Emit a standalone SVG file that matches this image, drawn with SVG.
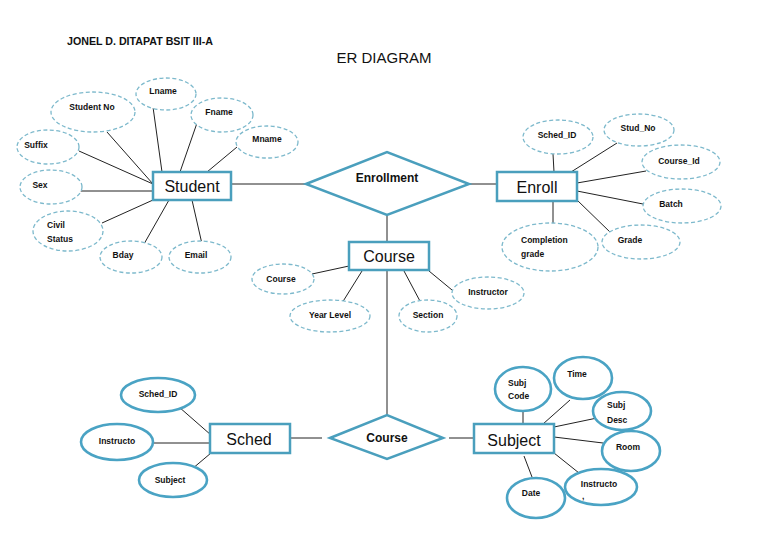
<svg xmlns="http://www.w3.org/2000/svg" width="768" height="543" viewBox="0 0 768 543">
<style>
text{font-family:"Liberation Sans",Arial,sans-serif;fill:#111}
.ent{fill:#fff;stroke:#4a9fbd;stroke-width:2.5}
.rel{fill:#fff;stroke:#4a9fbd;stroke-width:2.5}
.att{fill:#fff;stroke:#7db9cc;stroke-width:1.3;stroke-dasharray:4 2.5}
.satt{fill:#fff;stroke:#4aa3c4;stroke-width:2.6}
.et{font-size:16px;text-anchor:middle}
.rt{font-size:12px;font-weight:bold;text-anchor:middle}
.at{font-size:8.5px;font-weight:bold;text-anchor:middle}
.al{font-size:8.5px;font-weight:bold}
#connectors line{stroke:#222;stroke-width:1}
</style>
<rect width="768" height="543" fill="#fff"/>
<text x="67" y="45" font-size="11" font-weight="bold" textLength="146" lengthAdjust="spacingAndGlyphs">JONEL D. DITAPAT  BSIT III-A</text>
<text x="384" y="63" font-size="15" text-anchor="middle">ER DIAGRAM</text>

<g id="connectors">
<line x1="107" y1="132" x2="153" y2="184"/>
<line x1="79" y1="151" x2="153" y2="184"/>
<line x1="153" y1="107" x2="162" y2="172"/>
<line x1="197" y1="123" x2="180" y2="172"/>
<line x1="237" y1="147" x2="207" y2="172"/>
<line x1="80" y1="191" x2="153" y2="191"/>
<line x1="102" y1="223" x2="153" y2="200"/>
<line x1="144" y1="244" x2="169" y2="200"/>
<line x1="202" y1="244" x2="192" y2="200"/>
<line x1="231" y1="184" x2="306" y2="184"/>
<line x1="469" y1="184" x2="497" y2="184"/>
<line x1="387" y1="215" x2="387" y2="242"/>
<line x1="312" y1="274" x2="349" y2="266"/>
<line x1="342" y1="303" x2="362" y2="271"/>
<line x1="421" y1="303" x2="404" y2="271"/>
<line x1="452" y1="290" x2="429" y2="271"/>
<line x1="387" y1="270" x2="387" y2="415"/>
<line x1="553" y1="154" x2="554" y2="172"/>
<line x1="617" y1="143" x2="571" y2="172"/>
<line x1="646" y1="171" x2="577" y2="183"/>
<line x1="643" y1="204" x2="577" y2="191"/>
<line x1="611" y1="233" x2="577" y2="200"/>
<line x1="553" y1="223" x2="553" y2="201"/>
<line x1="179" y1="407" x2="211" y2="435"/>
<line x1="154" y1="443" x2="211" y2="443"/>
<line x1="192" y1="469" x2="211" y2="453"/>
<line x1="290" y1="438" x2="322" y2="438"/>
<line x1="449" y1="438" x2="474" y2="438"/>
<line x1="523" y1="412" x2="523" y2="424"/>
<line x1="570" y1="400" x2="543" y2="424"/>
<line x1="597" y1="418" x2="554" y2="427"/>
<line x1="603" y1="443" x2="554" y2="437"/>
<line x1="579" y1="473" x2="554" y2="453"/>
<line x1="532" y1="477" x2="524" y2="456"/>
</g>

<g id="student">
<rect class="ent" x="153" y="172" width="78" height="28"/>
<text class="et" x="192" y="192">Student</text>
</g>
<g id="lname"><ellipse class="att" cx="166" cy="94" rx="30" ry="16"/><text class="at" x="163" y="94">Lname</text></g>
<g id="studentno"><ellipse class="att" cx="93" cy="112" rx="42" ry="20"/><text class="at" x="92" y="110">Student No</text></g>
<g id="fname"><ellipse class="att" cx="222" cy="115" rx="31" ry="17"/><text class="at" x="219" y="115">Fname</text></g>
<g id="mname"><ellipse class="att" cx="267" cy="142" rx="31" ry="16"/><text class="at" x="267" y="142">Mname</text></g>
<g id="suffix"><ellipse class="att" cx="48" cy="147" rx="31" ry="17"/><text class="at" x="36" y="148">Suffix</text></g>
<g id="sex"><ellipse class="att" cx="51" cy="187" rx="31" ry="17"/><text class="at" x="40" y="188">Sex</text></g>
<g id="civilstatus"><ellipse class="att" cx="68" cy="231" rx="35" ry="20"/><text class="al" x="47" y="228">Civil</text><text class="al" x="47" y="242">Status</text></g>
<g id="bday"><ellipse class="att" cx="131" cy="257" rx="31" ry="16"/><text class="at" x="123" y="258">Bday</text></g>
<g id="email"><ellipse class="att" cx="200" cy="257" rx="31" ry="16"/><text class="at" x="196" y="258">Email</text></g>

<g id="enrollment">
<polygon class="rel" points="306,184 387,152 469,184 387,215"/>
<text class="rt" x="387" y="182">Enrollment</text>
</g>

<g id="enroll">
<rect class="ent" x="497" y="172" width="80" height="29"/>
<text class="et" x="537" y="193">Enroll</text>
</g>
<g id="schedid"><ellipse class="att" cx="558" cy="137" rx="35" ry="17"/><text class="at" x="557" y="138">Sched_ID</text></g>
<g id="studno"><ellipse class="att" cx="639" cy="130" rx="35" ry="16"/><text class="at" x="638" y="131">Stud_No</text></g>
<g id="courseid"><ellipse class="att" cx="681" cy="162" rx="39" ry="17"/><text class="at" x="679" y="164">Course_Id</text></g>
<g id="batch"><ellipse class="att" cx="682" cy="206" rx="39" ry="17"/><text class="at" x="671" y="207">Batch</text></g>
<g id="grade"><ellipse class="att" cx="641" cy="242" rx="39" ry="17"/><text class="at" x="630" y="243">Grade</text></g>
<g id="completiongrade"><ellipse class="att" cx="550" cy="247" rx="48" ry="24"/><text class="al" x="521" y="243">Completion</text><text class="al" x="521" y="257">grade</text></g>

<g id="course">
<rect class="ent" x="349" y="242" width="80" height="28"/>
<text class="et" x="389" y="262">Course</text>
</g>
<g id="courseattr"><ellipse class="att" cx="283" cy="279" rx="31" ry="15"/><text class="at" x="281" y="282">Course</text></g>
<g id="yearlevel"><ellipse class="att" cx="330" cy="316" rx="40" ry="16"/><text class="at" x="330" y="318">Year Level</text></g>
<g id="section"><ellipse class="att" cx="428" cy="316" rx="29" ry="16"/><text class="at" x="428" y="318">Section</text></g>
<g id="instructor"><ellipse class="att" cx="488" cy="293" rx="36" ry="16"/><text class="at" x="488" y="295">Instructor</text></g>

<g id="coursediamond">
<polygon class="rel" points="330,438 387,415 443,438 387,459"/>
<text class="rt" x="387" y="442">Course</text>
</g>

<g id="sched">
<rect class="ent" x="210" y="424" width="80" height="29"/>
<text class="et" x="249" y="445">Sched</text>
</g>
<g id="sched_schedid"><ellipse class="satt" cx="158" cy="395" rx="37" ry="17"/><text class="at" x="158" y="397">Sched_ID</text></g>
<g id="sched_instructo"><ellipse class="satt" cx="117" cy="442" rx="36" ry="18"/><text class="at" x="117" y="444">Instructo</text></g>
<g id="sched_subject"><ellipse class="satt" cx="173" cy="480" rx="34" ry="17"/><text class="at" x="170" y="483">Subject</text></g>

<g id="subject">
<rect class="ent" x="474" y="424" width="80" height="29"/>
<text class="et" x="514" y="446">Subject</text>
</g>
<g id="subjcode"><ellipse class="satt" cx="523" cy="389" rx="28" ry="22"/><text class="al" x="508" y="386">Subj</text><text class="al" x="508" y="399">Code</text></g>
<g id="time"><ellipse class="satt" cx="583" cy="378" rx="29" ry="21"/><text class="at" x="577" y="377">Time</text></g>
<g id="subjdesc"><ellipse class="satt" cx="622" cy="411" rx="29" ry="19"/><text class="al" x="607" y="408">Subj</text><text class="al" x="607" y="423">Desc</text></g>
<g id="room"><ellipse class="satt" cx="631" cy="451" rx="29" ry="20"/><text class="at" x="628" y="450">Room</text></g>
<g id="subj_instructo"><ellipse class="satt" cx="601" cy="487" rx="36" ry="18"/><text class="at" x="599" y="487">Instructo</text><text class="al" x="582" y="499">,</text></g>
<g id="date"><ellipse class="satt" cx="536" cy="498" rx="29" ry="20"/><text class="at" x="531" y="496">Date</text></g>
</svg>
